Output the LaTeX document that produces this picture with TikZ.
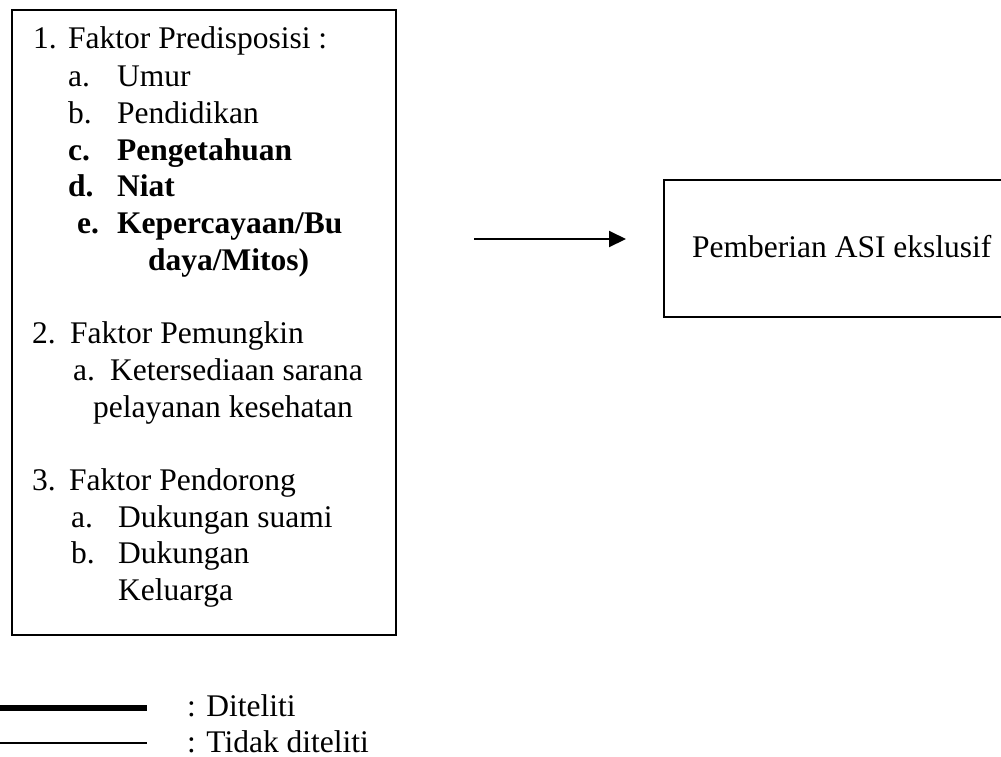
\documentclass[tikz,border=0pt]{standalone}
\usepackage{fontspec}
\setmainfont{Liberation Serif}
\usetikzlibrary{arrows.meta}
\begin{document}
\begin{tikzpicture}[x=1pt,y=-1pt,
  txt/.style={anchor=base west,inner sep=0pt,font=\fontsize{31.5}{37}\selectfont},
  btxt/.style={txt,font=\fontsize{31.5}{37}\selectfont\bfseries},
  boxline/.style={draw=black,line width=1.8pt},
  conn/.style={line width=2pt,-{Triangle[length=17pt,width=16pt]}},
  thickleg/.style={line width=6pt},
  thinleg/.style={line width=2pt}]
\useasboundingbox (0,0) rectangle (1001,756);
% boxes
\node[boxline,anchor=north west,minimum width=384pt,minimum height=625pt,inner sep=0pt] (leftbox) at (11,9) {};
\node[boxline,anchor=north west,minimum width=420pt,minimum height=137pt,inner sep=0pt] (rightbox) at (663,179) {};
% left box text
\node[txt] (n1) at (33,48) {1.};
\node[txt] (t1) at (68,48) {Faktor Predisposisi :};
\node[txt] (n1a) at (68,86) {a.};
\node[txt] (t1a) at (117,86) {Umur};
\node[txt] (n1b) at (68,123) {b.};
\node[txt] (t1b) at (117,123) {Pendidikan};
\node[btxt] (n1c) at (68,160) {c.};
\node[btxt] (t1c) at (117,160) {Pengetahuan};
\node[btxt] (n1d) at (68,196) {d.};
\node[btxt] (t1d) at (117,196) {Niat};
\node[btxt] (n1e) at (77,233) {e.};
\node[btxt] (t1e) at (117,233) {Kepercayaan/Bu};
\node[btxt] (t1e2) at (148,270) {daya/Mitos)};
\node[txt] (n2) at (32,343) {2.};
\node[txt] (t2) at (70,343) {Faktor Pemungkin};
\node[txt] (n2a) at (73,380) {a.};
\node[txt] (t2a) at (110,380) {Ketersediaan sarana};
\node[txt] (t2a2) at (93,417) {pelayanan kesehatan};
\node[txt] (n3) at (32,490) {3.};
\node[txt] (t3) at (69,490) {Faktor Pendorong};
\node[txt] (n3a) at (71,527) {a.};
\node[txt] (t3a) at (118,527) {Dukungan suami};
\node[txt] (n3b) at (71,563) {b.};
\node[txt] (t3b) at (118,563) {Dukungan};
\node[txt] (t3b2) at (118,600) {Keluarga};
% right box text
\node[txt] (asi) at (692,257) {Pemberian ASI ekslusif};
% arrow
\coordinate (arrS) at (474,239);
\coordinate (arrE) at (626,239);
\draw[conn] (arrS) -- (arrE);
% legend
\coordinate (l1a) at (0,708);
\coordinate (l1b) at (147,708);
\coordinate (l2a) at (0,743);
\coordinate (l2b) at (147,743);
\draw[thickleg] (l1a) -- (l1b);
\draw[thinleg] (l2a) -- (l2b);
\node[txt] (leg1) at (187,716) {: Diteliti};
\node[txt] (leg2) at (187,752) {: Tidak diteliti};
\end{tikzpicture}
\end{document}
